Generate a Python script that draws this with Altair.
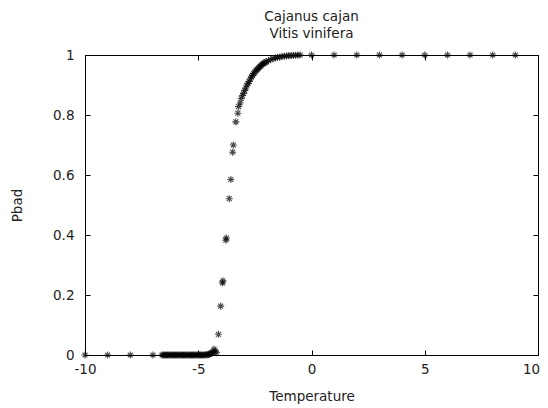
import altair as alt
import pandas as pd

# Temperature values (x) and Pbad values (y)
left_x = [-10, -9, -8, -7]
left_y = [0, 0, 0, 0]

low_x = [-6.6, -6.55, -6.5, -6.45, -6.4, -6.35, -6.3, -6.25, -6.2, -6.15,
         -6.1, -6.05, -6.0, -5.95, -5.9, -5.85, -5.8, -5.75, -5.7, -5.65,
         -5.6, -5.55, -5.5, -5.45, -5.4, -5.35, -5.3, -5.25, -5.2, -5.15,
         -5.1, -5.05, -5.0, -4.95, -4.9, -4.85, -4.8, -4.75, -4.7, -4.65,
         -4.6, -4.55, -4.5, -4.45, -4.4, -4.35, -4.3, -4.25, -4.2]
low_y = [0, 0, 0, 0, 0, 0, 0, 0, 0, 0,
         0, 0, 0, 0, 0, 0, 0, 0, 0, 0,
         0, 0, 0, 0, 0, 0, 0, 0, 0, 0,
         0, 0, 0, 0, 0, 0, 0, 0, 0, 0.001,
         0.001, 0.002, 0.003, 0.005, 0.007, 0.01, 0.02, 0.012, 0.008]

steep_x = [-4.11, -4.01, -3.93, -3.91, -3.78, -3.76, -3.63, -3.56, -3.48,
           -3.45, -3.34, -3.25, -3.22]
steep_y = [0.069, 0.163, 0.24, 0.247, 0.383, 0.39, 0.521, 0.585, 0.676,
           0.70, 0.777, 0.806, 0.828]

upper_x = [-3.15, -3.1, -3.05, -3.0, -2.95, -2.9, -2.85, -2.8, -2.75, -2.7,
           -2.65, -2.6, -2.55, -2.5, -2.45, -2.4, -2.35, -2.3, -2.25, -2.2,
           -2.15, -2.1, -2.05, -2.0, -1.9, -1.8, -1.7, -1.6, -1.5, -1.4,
           -1.3, -1.2, -1.1, -1.0, -0.9, -0.8, -0.7, -0.6, -0.5]
upper_y = [0.84, 0.855, 0.865, 0.872, 0.882, 0.89, 0.9, 0.905, 0.912, 0.92,
           0.927, 0.932, 0.938, 0.943, 0.948, 0.952, 0.956, 0.96, 0.963, 0.967,
           0.97, 0.973, 0.975, 0.977, 0.981, 0.985, 0.988, 0.99, 0.992, 0.993,
           0.995, 0.996, 0.997, 0.998, 0.998, 0.999, 0.999, 1.0, 1.0]

right_x = [0, 1, 2, 3, 4, 5, 6, 7, 8, 9]
right_y = [1, 1, 1, 1, 1, 1, 1, 1, 1, 1]

x_ticks = [-10, -5, 0, 5, 10]
y_ticks = [0, 0.2, 0.4, 0.6, 0.8, 1]

df = pd.DataFrame({
    "Temperature": left_x + low_x + steep_x + upper_x + right_x,
    "Pbad": left_y + low_y + steep_y + upper_y + right_y,
})

FONT = "DejaVu Sans"
TXT = "#222222"
star = "M-1,0L1,0M0,-1L0,1M-0.7,-0.7L0.7,0.7M-0.7,0.7L0.7,-0.7"

xscale = alt.Scale(domain=[-10, 10], nice=False, zero=False)
yscale = alt.Scale(domain=[0, 1], nice=False, zero=False)

common = dict(grid=False, domain=False, offset=-5, tickSize=5, tickColor="black",
              tickWidth=1, labelFont=FONT, labelFontSize=13.5, labelColor=TXT,
              labelFlush=False, titleFont=FONT, titleFontSize=13.5, titleColor=TXT,
              titleFontWeight="normal")

pts = alt.Chart(df).mark_point(
    shape=star, filled=False, stroke="black", strokeWidth=1.1, size=50
).encode(
    x=alt.X("Temperature:Q", scale=xscale,
            axis=alt.Axis(orient="bottom", values=x_ticks, labelPadding=7,
                          labelExpr="datum.value + ''", title="Temperature",
                          labelOffset={"condition": {"test": "datum.value == 10", "value": -7},
                                       "value": 0},
                          titlePadding=14, **common)),
    y=alt.Y("Pbad:Q", scale=yscale,
            axis=alt.Axis(orient="left", values=y_ticks, labelPadding=11,
                          format="~g", title="Pbad", titlePadding=28, **common)),
)

mirror = alt.Chart(df).mark_point(opacity=0).encode(
    x=alt.X("Temperature:Q", scale=xscale,
            axis=alt.Axis(orient="top", values=x_ticks, labels=False, title=None,
                          **common)),
    y=alt.Y("Pbad:Q", scale=yscale,
            axis=alt.Axis(orient="right", values=y_ticks, labels=False, title=None,
                          **common)),
)

chart = alt.layer(pts, mirror).resolve_axis(
    x="independent", y="independent"
).properties(
    width=453, height=300,
    title=alt.TitleParams(text=["Cajanus cajan", "Vitis vinifera"], anchor="middle",
                          font=FONT, fontSize=13.5, fontWeight="normal", color=TXT,
                          lineHeight=17, offset=8),
    autosize="none",
    padding={"left": 77, "top": 47, "right": 2, "bottom": 50},
).configure_view(stroke="black", strokeWidth=1)

chart.save("out.html", embed_options={"renderer": "svg", "actions": False})
